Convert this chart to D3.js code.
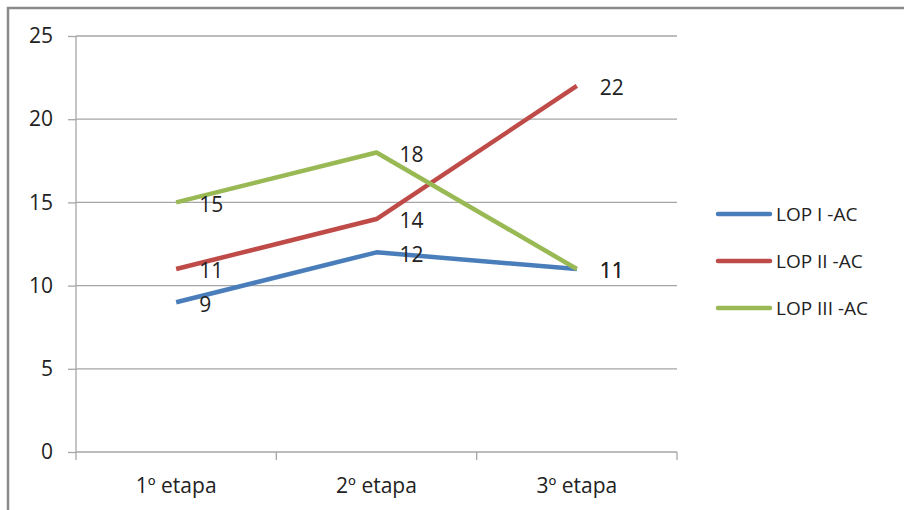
<!DOCTYPE html>
<html><head><meta charset="utf-8">
<script src="https://cdn.jsdelivr.net/npm/d3@7"></script>
<style>body{margin:0;background:#fff}svg{display:block}</style>
</head><body>
<svg id="c" width="904" height="510"></svg>
<script>
const categories = ["1º etapa", "2º etapa", "3º etapa"];
const seriesNames = ["LOP I -AC", "LOP II -AC", "LOP III -AC"];
const lop1 = [9, 12, 11];
const lop2 = [11, 14, 22];
const lop3 = [15, 18, 11];
const yTicks = [0, 5, 10, 15, 20, 25];
const colors = ["#4a7ebb", "#be4b48", "#98b954"];

const series = [lop1, lop2, lop3].map((v, i) => ({name: seriesNames[i], values: v, color: colors[i]}));
const svg = d3.select("#c");
const font = "'Open Sans', 'Noto Sans', sans-serif";

svg.append("rect").attr("x", 8).attr("y", 8).attr("width", 920).attr("height", 540)
  .attr("fill", "#fff").attr("stroke", "#8a8a8a").attr("stroke-width", 2.5);

const x0 = 76, x1 = 677, yTop = 36, yBot = 452;
const x = d3.scaleBand().domain(categories).range([x0, x1]);
const y = d3.scaleLinear().domain([0, 25]).range([yBot, yTop]);

// gridlines
svg.append("g").selectAll("line").data(yTicks.filter(d => d > 0)).join("line")
  .attr("x1", x0).attr("x2", x1).attr("y1", d => y(d)).attr("y2", d => y(d))
  .attr("stroke", "#a6a6a6").attr("stroke-width", 1.3);

// y axis
const ya = svg.append("g").attr("transform", `translate(${x0},0)`)
  .call(d3.axisLeft(y).tickValues(yTicks).tickSize(8).tickPadding(15));
ya.select(".domain").attr("stroke", "#a6a6a6").attr("stroke-width", 1.3).attr("d", `M-0,${yTop}V${yBot}`);
ya.selectAll(".tick line").attr("stroke", "#a6a6a6").attr("stroke-width", 1.3);
ya.selectAll("text").attr("font-family", font).attr("font-size", 21).attr("fill", "#222");

// x axis
const xa = svg.append("g").attr("transform", `translate(0,${yBot})`)
  .call(d3.axisBottom(x).tickSize(0).tickPadding(26));
xa.select(".domain").attr("stroke", "#a6a6a6").attr("stroke-width", 1.3).attr("d", `M${x0},0H${x1}`);
xa.selectAll("text").attr("font-family", font).attr("font-size", 21).attr("fill", "#222");
const bounds = [x0].concat(categories.map(c => x(c) + x.bandwidth()));
svg.append("g").selectAll("line").data(bounds).join("line")
  .attr("x1", d => d).attr("x2", d => d).attr("y1", yBot).attr("y2", yBot + 8)
  .attr("stroke", "#a6a6a6").attr("stroke-width", 1.3);

const cx = c => x(c) + x.bandwidth() / 2;
const line = d3.line().x((d, i) => cx(categories[i])).y(d => y(d));

series.forEach(s => {
  svg.append("path").datum(s.values).attr("d", line).attr("fill", "none")
    .attr("stroke", s.color).attr("stroke-width", 4.5).attr("stroke-linejoin", "round");
});
series.forEach(s => {
  svg.append("g").selectAll("text").data(s.values).join("text")
    .attr("x", (d, i) => cx(categories[i]) + 23).attr("y", d => y(d) + 2)
    .attr("dy", "0.35em").attr("font-family", font).attr("font-size", 21).attr("fill", "#222")
    .text(d => d);
});

// legend
const lg = svg.append("g");
series.forEach((s, i) => {
  const ly = 214 + i * 47;
  lg.append("line").attr("x1", 718).attr("x2", 770).attr("y1", ly).attr("y2", ly)
    .attr("stroke", s.color).attr("stroke-width", 4.5).attr("stroke-linecap", "round");
  lg.append("text").attr("x", 776).attr("y", ly).attr("dy", "0.35em")
    .attr("font-family", font).attr("font-size", 19).attr("fill", "#222").text(s.name);
});
</script>
</body></html>
